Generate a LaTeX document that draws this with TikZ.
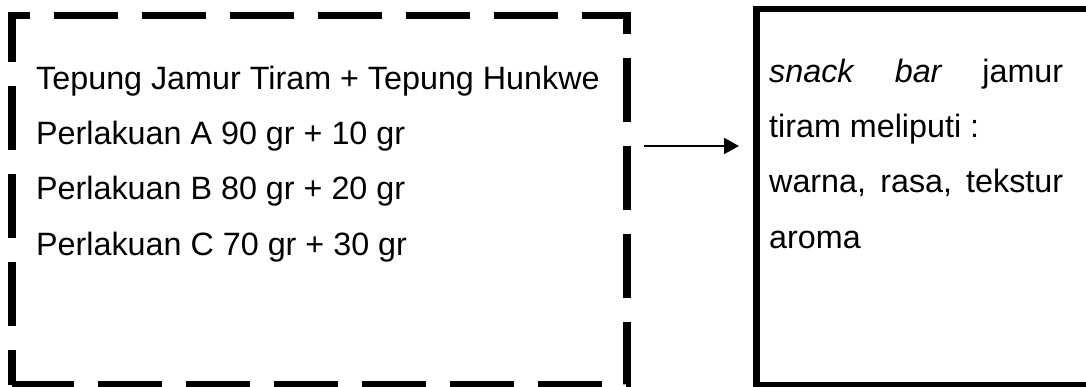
\documentclass[tikz,border=0pt]{standalone}
\usepackage{fontspec}
\setmainfont{Liberation Sans}
\usetikzlibrary{arrows.meta}
\tikzset{
  txt/.style={anchor=base west, inner sep=0pt, font=\fontsize{32.3}{38}\selectfont},
  dashbox/.style={line width=7.5pt, dash pattern=on 64pt off 24pt, dash phase=29.5pt, line join=miter},
  solidbox/.style={line width=6.5pt},
  conn/.style={line width=2pt, -{Triangle[length=15pt,width=16pt]}}
}
\begin{document}
\begin{tikzpicture}[x=1pt,y=-1pt]
\useasboundingbox (0,0) rectangle (1086,387);
\clip (0,0) rectangle (1086,387);
% left dashed box
\coordinate (lbl) at (12,384.5);
\coordinate (ltl) at (12,15.5);
\coordinate (ltr) at (627,15.5);
\coordinate (lbr) at (627,384.5);
\draw[dashbox] (lbl) -- (ltl) -- (ltr) -- (lbr) -- cycle;
% right box
\coordinate (rtl) at (756.5,9);
\coordinate (rbr) at (1089,385.5);
\draw[solidbox] (rtl) rectangle (rbr);
% left texts
\node[txt] (l1) at (36,90) {Tepung Jamur Tiram + Tepung Hunkwe};
\node[txt] (l2) at (36,145) {Perlakuan A 90 gr + 10 gr};
\node[txt] (l3) at (36,200) {Perlakuan B 80 gr + 20 gr};
\node[txt] (l4) at (36,255) {Perlakuan C 70 gr + 30 gr};
% right texts
\node[txt] (r1) at (769,83) {\makebox[294pt][s]{\textit{snack} \textit{bar} jamur}};
\node[txt] (r2) at (769,138) {tiram meliputi :};
\node[txt] (r3) at (769,193) {\makebox[294pt][s]{warna, rasa, tekstur}};
\node[txt] (r4) at (769,248) {aroma};
% arrow
\coordinate (a1) at (644,146);
\coordinate (a2) at (739,146);
\draw[conn] (a1) -- (a2);
\end{tikzpicture}
\end{document}
